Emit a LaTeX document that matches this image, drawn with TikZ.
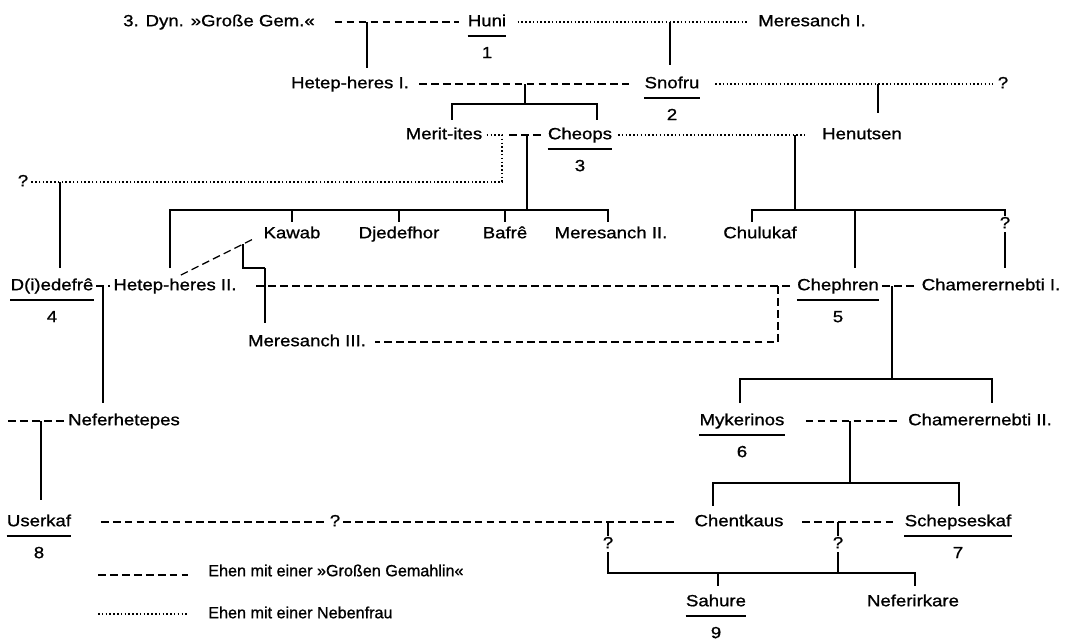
\documentclass[tikz,border=0pt]{standalone}
\usepackage{fontspec}
\setmainfont{Liberation Sans}[FakeStretch=1.15, FakeBold=1]
\newfontfamily\legendfont{Liberation Sans}[FakeBold=1]
\usetikzlibrary{calc}

\tikzset{
  person/.style={font=\fontsize{11.5}{13}\selectfont, inner sep=0pt, text height=8.5pt, text depth=2.5pt},
  descent/.style={line width=1.4pt},
  greatwife/.style={line width=0.9pt, dash pattern=on 5.5pt off 3pt},
  concubine/.style={line width=1.4pt, dash pattern=on 1.1pt off 1.6pt},
  kingrule/.style={line width=1.3pt},
  legendtext/.style={font=\legendfont\fontsize{11.5}{13}\selectfont, anchor=west},
}

\begin{document}
\begin{tikzpicture}[x=0.025cm, y=-0.025cm, every node/.style={person}]
  \useasboundingbox (0,0) rectangle (1076,641);

  % persons, row by row
  \node (dyn) at (219,22) {3. Dyn. »Große Gem.«};
  \node (huni) at (487,22) {Huni};
  \node (mer1) at (812,22) {Meresanch I.};
  \node (hh1) at (350,84) {Hetep-heres I.};
  \node (snofru) at (672,84) {Snofru};
  \node (q1) at (1003,84) {?};
  \node (merit) at (444,135) {Merit-ites};
  \node (cheops) at (580,135) {Cheops};
  \node (henutsen) at (862,135) {Henutsen};
  \node (q2) at (23,182) {?};
  \node (kawab) at (292,234) {Kawab};
  \node (djedefhor) at (399,234) {Djedefhor};
  \node (bafre) at (505,234) {Bafrê};
  \node (mer2) at (611,234) {Meresanch II.};
  \node (chulukaf) at (760,234) {Chulukaf};
  \node (qc) at (1005,224) {?};
  \node (djedefre) at (52,286) {D(i)edefrê};
  \node (hh2) at (175,286) {Hetep-heres II.};
  \node (chephren) at (838,286) {Chephren};
  \node (cham1) at (991,286) {Chamerernebti I.};
  \node (mer3) at (307,342) {Meresanch III.};
  \node (neferhetepes) at (124,421) {Neferhetepes};
  \node (mykerinos) at (742,421) {Mykerinos};
  \node (cham2) at (980,421) {Chamerernebti II.};
  \node (userkaf) at (39,522) {Userkaf};
  \node (qu) at (335,522) {?};
  \node (chentkaus) at (739,522) {Chentkaus};
  \node (schepseskaf) at (958,522) {Schepseskaf};
  \node (q14) at (608,544) {?};
  \node (q15) at (838,544) {?};
  \node (sahure) at (716,602) {Sahure};
  \node (neferirkare) at (913,602) {Neferirkare};

  % kings: underline and number
  \foreach \k/\n in {huni/1,snofru/2,cheops/3,djedefre/4,chephren/5,mykerinos/6,schepseskaf/7,userkaf/8,sahure/9}{
    \draw[kingrule] ([yshift=-4.4pt]\k.south west) -- ([yshift=-4.4pt]\k.south east);
    \node (\k-nr) at ([yshift=-22.7pt]\k.center) {\n};
  }

  % 4. Dyn., first generations
  \draw[greatwife, shorten <=14pt, shorten >=6pt] (dyn) -- (huni);
  \draw[concubine, shorten <=8pt, shorten >=7pt] (huni) -- (mer1);
  \coordinate (j1) at (367,22);
  \draw[descent, shorten >=6pt] (j1) -- (j1 |- hh1.north);
  \coordinate (j2) at (670,22);
  \draw[descent, shorten >=8pt] (j2) -- (j2 |- snofru.north);

  \draw[greatwife, shorten <=7pt, shorten >=11pt] (hh1) -- (snofru);
  \draw[concubine, shorten <=11pt, shorten >=3pt] (snofru) -- (q1);
  \coordinate (j3) at (525,84);
  \coordinate (b3l) at (452,104);
  \coordinate (b3r) at (597,104);
  \draw[descent] (j3) -- (j3 |- b3l);
  \draw[descent, shorten <=5pt, shorten >=5pt] (b3l |- merit.north) -- (b3l) -- (b3r) -- (b3r |- cheops.north);
  \coordinate (j4) at (878,84);
  \draw[descent, shorten >=10pt] (j4) -- (j4 |- henutsen.north);

  % Cheops
  \coordinate (k3) at (502,135);
  \draw[concubine, shorten <=3pt, shorten >=2pt] (merit) -- (k3) |- (q2.east);
  \draw[greatwife, shorten <=5pt, shorten >=3pt] (k3) -- (cheops);
  \draw[concubine, shorten <=4pt, shorten >=12pt] (cheops) -- (henutsen);
  \coordinate (j7) at (60,182);
  \draw[descent, shorten >=7pt] (j7) -- (j7 |- djedefre.north);

  \coordinate (j5) at (527,135);
  \coordinate (b5l) at (170,210);
  \coordinate (b5r) at (608,210);
  \draw[descent] (j5) -- (j5 |- b5l);
  \draw[descent, shorten <=7pt, shorten >=3pt] (b5l |- hh2.north) -- (b5l) -- (b5r) -- (b5r |- mer2.north);
  \foreach \n in {kawab,djedefhor,bafre}
    \draw[descent, shorten >=3pt] (\n.north |- b5l) -- (\n.north);

  \coordinate (j6) at (795,135);
  \coordinate (b6l) at (752,210);
  \coordinate (b6m) at (855,210);
  \coordinate (b6r) at (1005,210);
  \draw[descent] (j6) -- (j6 |- b6l);
  \draw[descent, shorten <=3pt] (b6l |- chulukaf.north) -- (b6l) -- (b6r) -- (qc.north);
  \draw[descent, shorten >=7pt] (qc.south) -- (qc.south |- cham1.north);
  \draw[descent, shorten >=7pt] (b6m) -- (b6m |- chephren.north);

  % Chephren generation
  \draw[greatwife, shorten <=2pt, shorten >=2pt] (djedefre) -- (hh2);
  \coordinate (j8) at (103,286);
  \draw[descent, shorten >=7pt] (j8) -- (j8 |- neferhetepes.north);
  \draw[greatwife, shorten <=9pt, shorten >=3pt] (kawab.west) -- (hh2.north);
  \coordinate (j9) at ($(kawab.west)!0.23!(hh2.north)$);
  \coordinate (k9) at (265,268);
  \draw[descent] (j9) |- (k9);
  \draw[descent, shorten >=8pt] (k9) -- (k9 |- mer3.north);
  \draw[greatwife, shorten <=14pt, shorten >=2pt] (hh2) -- (chephren);
  \coordinate (j10) at (778,286);
  \draw[greatwife, shorten >=6pt] (j10) |- (mer3.east);
  \draw[greatwife, shorten <=2pt, shorten >=3pt] (chephren) -- (cham1);
  \coordinate (j11) at (892,286);
  \coordinate (b11l) at (740,379);
  \coordinate (b11r) at (992,379);
  \draw[descent] (j11) -- (j11 |- b11l);
  \draw[descent, shorten <=7pt, shorten >=7pt] (b11l |- mykerinos.north) -- (b11l) -- (b11r) -- (b11r |- cham2.north);

  % Mykerinos generation
  \coordinate (w13) at (8,421);
  \draw[greatwife, shorten >=3pt] (w13) -- (neferhetepes.west);
  \coordinate (j13) at (41,421);
  \draw[descent, shorten >=10pt] (j13) -- (j13 |- userkaf.north);
  \draw[greatwife, shorten <=15pt, shorten >=7pt] (mykerinos) -- (cham2);
  \coordinate (j12) at (850,421);
  \coordinate (b12l) at (713,483);
  \coordinate (b12r) at (959,483);
  \draw[descent] (j12) -- (j12 |- b12l);
  \draw[descent, shorten <=6pt, shorten >=6pt] (b12l |- chentkaus.north) -- (b12l) -- (b12r) -- (b12r |- schepseskaf.north);

  % 5. Dyn.
  \draw[greatwife, shorten <=21pt, shorten >=2pt] (userkaf) -- (qu);
  \draw[greatwife, shorten <=2pt, shorten >=12pt] (qu) -- (chentkaus);
  \draw[greatwife, shorten <=13pt, shorten >=7pt] (chentkaus) -- (schepseskaf);
  \coordinate (j14) at (608,522);
  \coordinate (j15) at (838,522);
  \coordinate (b14l) at (608,573);
  \coordinate (b14m) at (718,573);
  \coordinate (b14r) at (915,573);
  \draw[descent] (j14) -- (q14.north);
  \draw[descent] (j15) -- (q15.north);
  \draw[descent] (q15.south) -- (j15 |- b14l);
  \draw[descent, shorten >=6pt] (q14.south) -- (b14l) -- (b14r) -- (b14r |- neferirkare.north);
  \draw[descent, shorten >=6pt] (b14m) -- (b14m |- sahure.north);

  % legend
  \node[legendtext] (leg1) at (208,572) {Ehen mit einer »Großen Gemahlin«};
  \node[legendtext] (leg2) at (208,614) {Ehen mit einer Nebenfrau};
  \coordinate (s1) at (98,575);
  \draw[greatwife, shorten >=14pt] (s1) -- (s1 -| leg1.west);
  \coordinate (s2) at (98,614);
  \draw[concubine, shorten >=14pt] (s2) -- (s2 -| leg2.west);
\end{tikzpicture}
\end{document}
